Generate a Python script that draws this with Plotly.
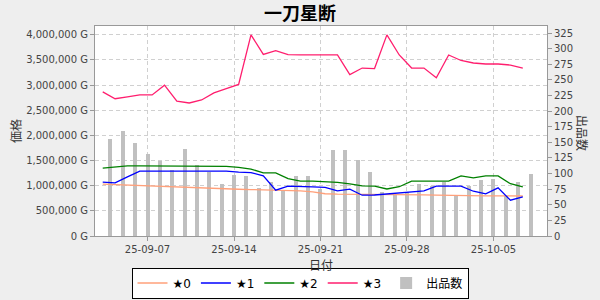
import pandas as pd
import plotly.graph_objects as go

# ---- data ----
days = pd.date_range("2025-09-03", periods=35, freq="D")
line_times = days + pd.Timedelta(hours=9)     # price sampling time
bar_times = days + pd.Timedelta(days=1)       # listing-count period

star0 = [1030000, 1020000, 1010000, 997000, 990000, 983000, 977000, 967000, 957000, 947000,
         937000, 930000, 923000, 917000, 911000, 903000, 897000, 877000, 840000, 831000,
         831000, 831000, 831000, 831000, 823000, 817000, 817000, 811000, 805000, 800000,
         800000, 797000, 797000, 795000, 795000]
star1 = [1070000, 1057000, 1176000, 1290000, 1290000, 1290000, 1290000, 1290000, 1290000, 1290000,
         1290000, 1270000, 1262000, 1196000, 911000, 990000, 990000, 977000, 965000, 897000,
         930000, 811000, 815000, 837000, 860000, 877000, 897000, 990000, 990000, 990000,
         890000, 837000, 957000, 711000, 777000]
star2 = [1350000, 1375000, 1395000, 1395000, 1395000, 1395000, 1395000, 1395000, 1395000, 1395000,
         1385000, 1365000, 1330000, 1255000, 1255000, 1140000, 1090000, 1090000, 1075000, 1065000,
         1035000, 995000, 990000, 935000, 980000, 1090000, 1090000, 1090000, 1090000, 1195000,
         1155000, 1195000, 1195000, 1040000, 975000]
star3 = [2865000, 2730000, 2765000, 2805000, 2805000, 3000000, 2680000, 2645000, 2705000, 2845000,
         2930000, 3015000, 4000000, 3610000, 3685000, 3605000, 3600000, 3600000, 3600000, 3600000,
         3210000, 3340000, 3330000, 4000000, 3600000, 3340000, 3340000, 3145000, 3600000, 3490000,
         3440000, 3420000, 3420000, 3400000, 3340000]
listings = [156, 169, 149, 132, 120, 106, 140, 114, 102, 84,
            98, 96, 77, 87, 72, 96, 96, 76, 137, 137,
            121, 103, 70, 67, 70, 84, 80, 87, 64, 80,
            90, 92, 64, 87, 100]

series_names = ["★0", "★1", "★2", "★3"]
series_values = [star0, star1, star2, star3]
series_colors = ["#FFA07A", "#0000FF", "#008000", "#FF1E6E"]

FONT = "DejaVu Sans, Noto Sans CJK JP, sans-serif"
CJK = "Noto Sans CJK JP, DejaVu Sans, sans-serif"

fig = go.Figure()

fig.add_trace(go.Bar(
    x=bar_times, y=listings, name="出品数", yaxis="y",
    marker=dict(color="#C0C0C0", line=dict(width=0)),
    width=28000000, legendrank=5,
))

for k, (nm, vals, col) in enumerate(zip(series_names, series_values, series_colors)):
    fig.add_trace(go.Scatter(
        x=line_times, y=vals, name=nm, mode="lines", yaxis="y2",
        line=dict(color=col, width=1.3), legendrank=k + 1,
    ))

fig.update_layout(
    width=600, height=300,
    margin=dict(l=95, r=53, t=26, b=64, autoexpand=False),
    paper_bgcolor="#EEEEEE", plot_bgcolor="#FFFFFF",
    font=dict(family=FONT, size=10, color="#444444"),
    title=dict(text="一刀星断", x=0.5, xanchor="center", y=0.955, yanchor="middle",
               font=dict(family=CJK, size=18, color="#000000", weight="bold")),
    bargap=0,
    showlegend=True,
    legend=dict(orientation="h", xref="container", yref="container",
                x=0.5, xanchor="center", y=0.005, yanchor="bottom",
                bgcolor="#FFFFFF", bordercolor="#000000", borderwidth=1,
                font=dict(family=FONT, size=12, color="#000000"),
                itemwidth=30, tracegroupgap=0),
    xaxis=dict(
        type="date", range=["2025-09-02 18:00", "2025-10-09 08:00"],
        tick0="2025-09-07", dtick=7 * 86400000, tickformat="%y-%m-%d",
        showgrid=True, gridcolor="#D0D0D0", griddash="4px,3px", gridwidth=1,
        showline=True, linecolor="#999999", linewidth=1, mirror=True,
        ticks="outside", ticklen=4, tickcolor="#999999",
        tickfont=dict(family=FONT, size=10, color="#444444"),
        zeroline=False, automargin=False,
    ),
    yaxis=dict(
        side="right", range=[0, 336.4], tick0=0, dtick=25,
        showgrid=False, zeroline=False,
        showline=True, linecolor="#999999", linewidth=1,
        ticks="outside", ticklen=4, tickcolor="#999999",
        tickfont=dict(family=FONT, size=10, color="#444444"),
        automargin=False,
    ),
    yaxis2=dict(
        side="left", overlaying="y", range=[0, 4176000], tick0=0, dtick=500000,
        tickformat=",d", ticksuffix=" G",
        showgrid=True, gridcolor="#D0D0D0", griddash="4px,3px", gridwidth=1,
        zeroline=False,
        showline=True, linecolor="#999999", linewidth=1,
        ticks="outside", ticklen=4, tickcolor="#999999",
        tickfont=dict(family=FONT, size=10, color="#444444"),
        title=dict(text="価格", font=dict(family=CJK, size=12, color="#333333"), standoff=1),
        automargin=False,
    ),
    annotations=[
        dict(text="出品数", textangle=90, xref="paper", yref="paper",
             x=1.0774, y=0.491, xanchor="center", yanchor="middle", showarrow=False,
             font=dict(family=CJK, size=12, color="#333333")),
        dict(text="日付", xref="paper", yref="paper",
             x=0.5, y=-0.092, xanchor="center", yanchor="top", showarrow=False,
             font=dict(family=CJK, size=12, color="#333333"), borderpad=0),
    ],
)

fig.write_html("out.html")
